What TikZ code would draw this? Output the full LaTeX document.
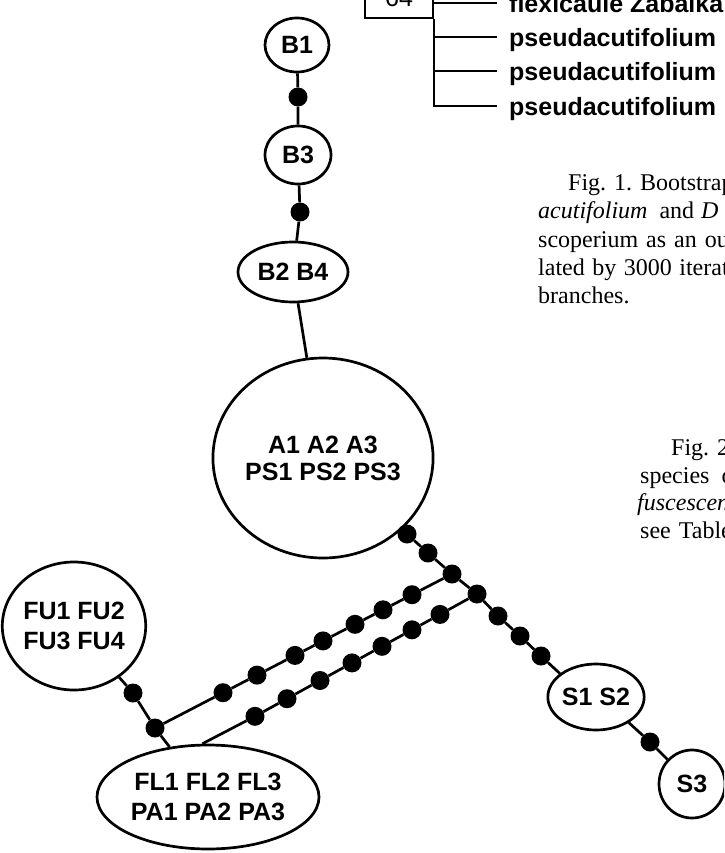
\documentclass[tikz,border=0pt]{standalone}
\usepackage{fontspec}
\newfontfamily\lsans{Liberation Sans}
\newfontfamily\lserif{Liberation Serif}
\usetikzlibrary{shapes.geometric}
\newcommand\mycapfont{\lserif\fontsize{24}{28}\selectfont}
\begin{document}
\begin{tikzpicture}[x=1pt,y=-1pt,
  hap/.style={draw, ellipse, line width=2.7pt, fill=white, inner sep=0pt, align=center,
    font=\lsans\bfseries\fontsize{25}{27}\selectfont},
  hapwide/.style={hap, font=\lsans\bfseries\fontsize{25}{30}\selectfont},
  bead/.style={circle, fill=black, inner sep=0pt, minimum size=19pt},
  link/.style={line width=2.7pt},
  tline/.style={line width=1.6pt},
  leaf/.style={anchor=west, inner xsep=12pt, inner ysep=0pt, text height=22pt, text depth=2pt,
    font=\lsans\bfseries\fontsize{25}{27}\selectfont},
  captext/.style={anchor=base west, inner sep=0pt, font=\mycapfont}
]
\useasboundingbox (0,0) rectangle (724,853);
\clip (0,0) rectangle (724,853);

% ---- top right tree fragment
\node[draw, line width=1.6pt, minimum width=68pt, minimum height=40pt, inner sep=0pt,
  font=\lsans\fontsize{25}{27}\selectfont] (box) at (399,-2) {64};
\node[leaf] (L1) at (497,3) {flexicaule Zabaika};
\node[leaf] (L2) at (497,37) {pseudacutifolium};
\node[leaf] (L3) at (497,71) {pseudacutifolium};
\node[leaf] (L4) at (497,106) {pseudacutifolium};
\draw[tline] (box.east |- L1.west) -- (L1.west);
\draw[tline] (box.south east) |- (L4.west);
\draw[tline] (box.south east |- L2.west) -- (L2.west);
\draw[tline] (box.south east |- L3.west) -- (L3.west);

% ---- captions
\node[captext] (c1) at (568,190) {Fig. 1. Bootstrap};
\node[captext] (c2) at (538,218) {\textit{acutifolium}\hspace{12pt}and\hspace{7pt}\textit{D}};
\node[captext] (c3) at (538,247) {scoperium\hspace{8pt}as\hspace{8pt}an\hspace{8pt}out};
\node[captext] (c4) at (538,275) {lated\hspace{7.5pt}by\hspace{7.5pt}3000\hspace{7.5pt}iterat};
\node[captext] (c5) at (538,303) {branches.};
\node[captext] (f1) at (671,455) {Fig. 2.};
\node[captext] (f2) at (640,483) {species\hspace{12pt}o};
\node[captext] (f3) at (637,510) {\textit{fuscescen}};
\node[captext] (f4) at (640,538) {see\hspace{8pt}Table};

% ---- haplotype network nodes
\node[hap, minimum width=64pt, minimum height=54pt] (B1) at (297,45) {B1};
\node[bead] (d1) at (298,97) {};
\node[hap, minimum width=66pt, minimum height=58pt] (B3) at (298,155) {B3};
\node[bead] (d2) at (300,212) {};
\node[hap, minimum width=110pt, minimum height=60pt] (B24) at (293,272) {B2 B4};
\node[hap, minimum width=186pt, minimum height=200pt] (A) at (323,458) {A1 A2 A3\\PS1 PS2 PS3};
\node[hapwide, minimum width=138pt, minimum height=128pt] (FU) at (74,626) {FU1 FU2\\FU3 FU4};
\node[hapwide, minimum width=222pt, minimum height=104pt] (FL) at (208,797) {FL1 FL2 FL3\\PA1 PA2 PA3};
\node[hap, minimum width=96pt, minimum height=66pt] (S12) at (596,697) {S1 S2};
\node[hap, minimum width=66pt, minimum height=68pt] (S3) at (692,784) {S3};

% trunk beads
\node[bead] (t1) at (407,534) {};
\node[bead] (t2) at (428,553) {};
\node[bead] (J1) at (452,574) {};
\node[bead] (J2) at (477,594) {};
\node[bead] (t3) at (498,616) {};
\node[bead] (t4) at (520,636) {};
\node[bead] (t5) at (541,656) {};
\node[bead] (s1) at (650,742) {};
% upper branch beads
\node[bead] (u1) at (412,594.7) {};
\node[bead] (u2) at (383,609.8) {};
\node[bead] (u3) at (355,624.3) {};
\node[bead] (u4) at (323,640.9) {};
\node[bead] (u5) at (295,655.4) {};
\node[bead] (u6) at (257,675.1) {};
\node[bead] (u7) at (223,692.7) {};
\node[bead] (J3) at (155,728) {};
% lower branch beads
\node[bead] (l1) at (440,614.4) {};
\node[bead] (l2) at (412,629.8) {};
\node[bead] (l3) at (382,646.3) {};
\node[bead] (l4) at (352,662.9) {};
\node[bead] (l5) at (320,680.5) {};
\node[bead] (l6) at (287,698.7) {};
\node[bead] (l7) at (255,716.3) {};
% FU bead
\node[bead] (fd) at (133,693) {};

% ---- connectors
\draw[link] (B1) -- (d1) -- (B3) -- (d2) -- (B24) -- (A);
\draw[link] (A) -- (t1) -- (t2) -- (J1) -- (J2) -- (t3) -- (t4) -- (t5) -- (S12.147);
\draw[link] (S12.-38) -- (s1) -- (S3);
\draw[link] (J1) -- (u1) -- (u2) -- (u3) -- (u4) -- (u5) -- (u6) -- (u7) -- (J3);
\draw[link] (J2) -- (l1) -- (l2) -- (l3) -- (l4) -- (l5) -- (l6) -- (l7) -- (FL.96);
\draw[link] (FU) -- (fd) -- (J3) -- (FL);
\end{tikzpicture}
\end{document}
